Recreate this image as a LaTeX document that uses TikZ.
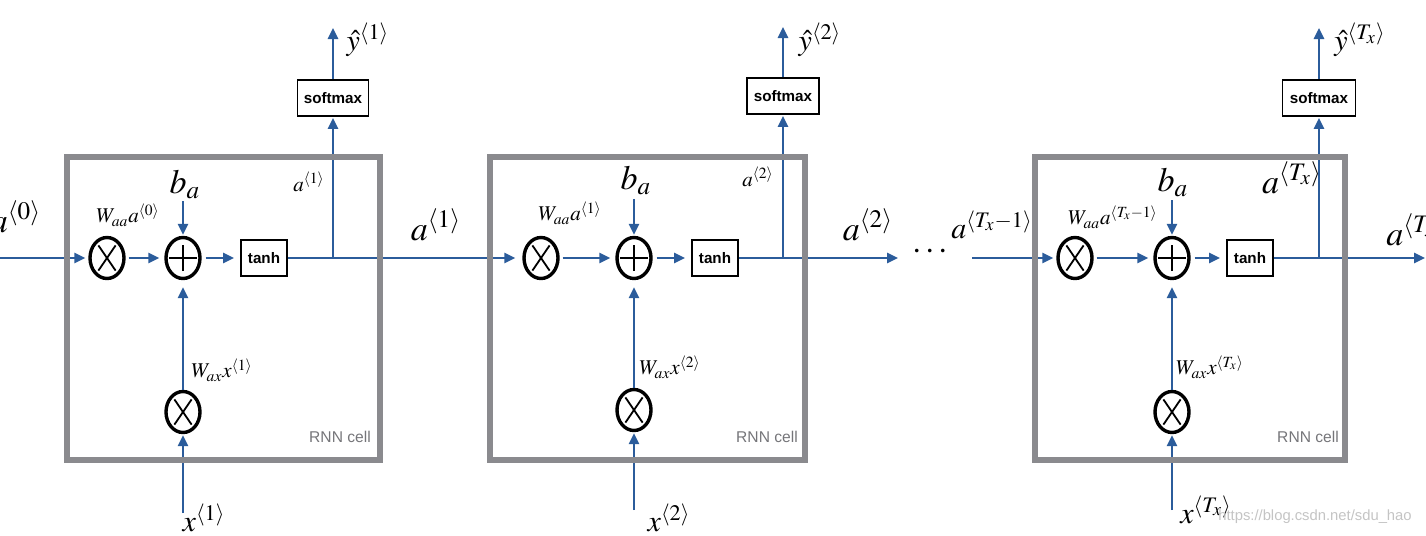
\documentclass[tikz,border=0pt]{standalone}
\usepackage{mathptmx}
\usepackage{fontspec}
\setmainfont{Liberation Serif}
\newfontfamily\hvfont{Liberation Sans}
\usetikzlibrary{shapes.geometric,arrows.meta}
\definecolor{arrowblue}{HTML}{2B5C9B}
\definecolor{cellgray}{HTML}{8A8A8E}
\definecolor{wmgray}{HTML}{C4C4C4}
\newcommand\szBig{\fontsize{17}{19}\selectfont}
\newcommand\szMid{\fontsize{15}{17}\selectfont}
\newcommand\szSmall{\fontsize{10.5}{12}\selectfont}
\begin{document}
\begin{tikzpicture}[x=0.5pt,y=-0.5pt,
  conn/.style={draw=arrowblue, line width=1.25pt},
  arr/.style={conn, -{Triangle[length=5.5pt,width=5pt]}},
  cellbox/.style={draw=cellgray, line width=2.6pt, inner sep=0pt},
  opcirc/.style={ellipse, draw=black, line width=1.7pt, minimum width=17pt, minimum height=20.5pt, inner sep=0pt},
  mult/.style={opcirc, path picture={
     \draw[line width=0.9pt] ([xshift=-4.3pt,yshift=-6.3pt]path picture bounding box.center) -- ([xshift=4.3pt,yshift=6.3pt]path picture bounding box.center);
     \draw[line width=0.9pt] ([xshift=-4.3pt,yshift=6.3pt]path picture bounding box.center) -- ([xshift=4.3pt,yshift=-6.3pt]path picture bounding box.center);}},
  plus/.style={opcirc, path picture={
     \draw[line width=1pt] ([xshift=-7pt]path picture bounding box.center) -- ([xshift=7pt]path picture bounding box.center);
     \draw[line width=1pt] ([yshift=-6.5pt]path picture bounding box.center) -- ([yshift=6.5pt]path picture bounding box.center);}},
  fbox/.style={draw=black, line width=0.9pt, inner sep=0pt, minimum height=18pt, font=\hvfont\bfseries\fontsize{7.6}{9}\selectfont},
  lab/.style={inner sep=0pt},
  celllab/.style={inner sep=0pt, text=cellgray!85!black, font=\hvfont\fontsize{7.8}{9}\selectfont}
]
\useasboundingbox (0,0) rectangle (1426,536);

% ---------------- cell 1 ----------------
\node[mult] (m1) at (107,258) {};
\node[plus] (p1) at (183,258) {};
\node[fbox, minimum width=23pt] (t1) at (264,258) {tanh};
\coordinate (j1) at (333,258);
\node[fbox, minimum width=35.5pt] (s1) at (333,98) {softmax};
\coordinate (y1top) at (333,28);
\coordinate (b1top) at (183,201);
\node[mult] (q1) at (183,412) {};
\coordinate (x1bot) at (183,513);
\coordinate (a0in) at (0,258);

% ---------------- cell 2 ----------------
\node[mult] (m2) at (541,258) {};
\node[plus] (p2) at (634,258) {};
\node[fbox, minimum width=23pt] (t2) at (715,258) {tanh};
\coordinate (j2) at (783,258);
\node[fbox, minimum width=36pt] (s2) at (783,96) {softmax};
\coordinate (y2top) at (783,27);
\coordinate (b2top) at (634,199);
\node[mult] (q2) at (634,410) {};
\coordinate (x2bot) at (634,510);
\coordinate (a2out) at (898,258);

% ---------------- cell 3 ----------------
\coordinate (a3in) at (972,258);
\node[mult] (m3) at (1075,258) {};
\node[plus] (p3) at (1172,258) {};
\node[fbox, minimum width=23pt] (t3) at (1250,258) {tanh};
\coordinate (j3) at (1319,258);
\node[fbox, minimum width=36.5pt] (s3) at (1319,98) {softmax};
\coordinate (y3top) at (1319,28);
\coordinate (b3top) at (1172,200);
\node[mult] (q3) at (1172,412) {};
\coordinate (x3bot) at (1172,510);
\coordinate (a3out) at (1425,258);

% ---------------- connectors ----------------
\foreach \i in {1,2,3}{
  \draw[arr, shorten <=1.5pt, shorten >=2.5pt] (m\i) -- (p\i);
  \draw[arr, shorten <=2pt, shorten >=3pt] (p\i) -- (t\i);
  \draw[arr, shorten >=0.5pt] (j\i) -- (s\i.south);
  \draw[arr] (s\i.north) -- (y\i top);
  \draw[arr, shorten >=0.5pt] (b\i top) -- (p\i.north);
  \draw[arr, shorten >=3.5pt] (q\i.north) -- (p\i.south);
  \draw[arr, shorten >=0.5pt] (x\i bot) -- (q\i.south);
}
\draw[arr, shorten >=1.5pt] (a0in) -- (m1.west);
\draw[arr, shorten >=3.5pt] (t1.east) -- (j1) -- (m2.west);
\draw[arr] (t2.east) -- (j2) -- (a2out);
\draw[arr, shorten >=1.5pt] (a3in) -- (m3.west);
\draw[arr] (t3.east) -- (j3) -- (a3out);
\node[lab, font=\szBig] (dots) at (930,252) {$\cdots$};

% ---------------- labels ----------------
\node[lab, font=\szBig] (la0) at (16,217) {$a^{\langle 0\rangle}$};
\node[lab, font=\szBig] (la1) at (436,225) {$a^{\langle 1\rangle}$};
\node[lab, font=\szBig] (la2) at (868,225) {$a^{\langle 2\rangle}$};
\node[lab, font=\szMid] (laT1) at (992,225) {$a^{\langle T_x-1\rangle}$};
\node[lab, font=\szBig, anchor=west] (laT) at (1386,230) {$a^{\langle T_x\rangle}$};

\node[lab, font=\szBig] (b1) at (185,184) {$b_a$};
\node[lab, font=\szBig] (b2) at (636,180) {$b_a$};
\node[lab, font=\szBig] (b3) at (1173,182) {$b_a$};

\node[lab, font=\szSmall] (w1) at (128,215) {$W_{aa}a^{\langle 0\rangle}$};
\node[lab, font=\szSmall] (w2) at (570,213) {$W_{aa}a^{\langle 1\rangle}$};
\node[lab, font=\szSmall] (w3) at (1113,217) {$W_{aa}a^{\langle T_x-1\rangle}$};

\node[lab, font=\szSmall] (v1) at (222,370) {$W_{ax}x^{\langle 1\rangle}$};
\node[lab, font=\szSmall] (v2) at (670,367) {$W_{ax}x^{\langle 2\rangle}$};
\node[lab, font=\szSmall] (v3) at (1210,367) {$W_{ax}x^{\langle T_x\rangle}$};

\node[lab, font=\szSmall] (h1) at (309,182) {$a^{\langle 1\rangle}$};
\node[lab, font=\szSmall] (h2) at (758,177) {$a^{\langle 2\rangle}$};
\node[lab, font=\szBig] (h3) at (1292,178) {$a^{\langle T_x\rangle}$};

\node[lab, font=\szMid] (yh1) at (368,40) {$\hat{y}^{\langle 1\rangle}$};
\node[lab, font=\szMid] (yh2) at (820,40) {$\hat{y}^{\langle 2\rangle}$};
\node[lab, font=\szMid] (yh3) at (1360,40) {$\hat{y}^{\langle T_x\rangle}$};

\node[lab, font=\szMid] (x1) at (204,518) {$x^{\langle 1\rangle}$};
\node[lab, font=\szMid] (x2) at (669,518) {$x^{\langle 2\rangle}$};
\node[lab, font=\szMid] (x3) at (1206,510) {$x^{\langle T_x\rangle}$};

\node[lab, text=wmgray, font=\hvfont\fontsize{7.4}{9}\selectfont] (wm) at (1315,517) {https://blog.csdn.net/sdu\_hao};

% ---------------- cell boxes (drawn over the lines) ----------------
\node[cellbox, minimum width=156.5pt, minimum height=151.5pt] (c1) at (223.5,308.5) {};
\node[cellbox, minimum width=157.5pt, minimum height=151.5pt] (c2) at (647.5,308.5) {};
\node[cellbox, minimum width=155pt, minimum height=151.5pt] (c3) at (1190,308.5) {};
\node[celllab] (r1) at (340,437) {RNN cell};
\node[celllab] (r2) at (767,437) {RNN cell};
\node[celllab] (r3) at (1308,437) {RNN cell};
\end{tikzpicture}
\end{document}
